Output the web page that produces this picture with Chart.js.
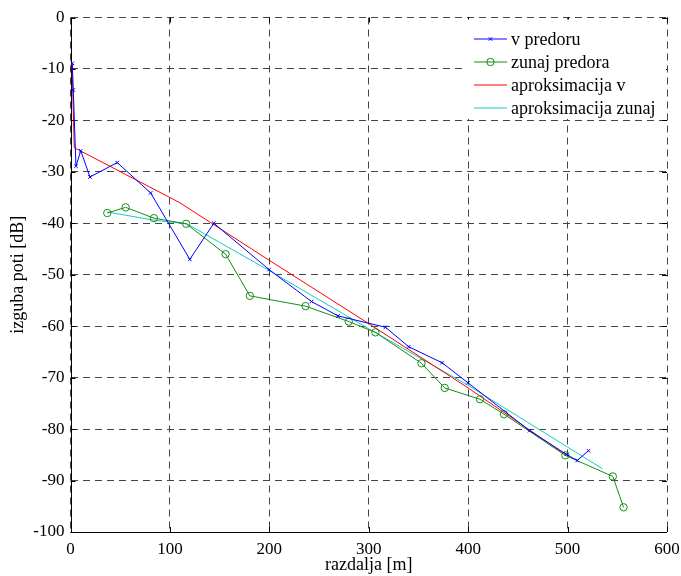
<!DOCTYPE html>
<html>
<head>
<meta charset="utf-8">
<script src="https://cdn.jsdelivr.net/npm/chart.js@4/dist/chart.umd.min.js"></script>
<style>
  html, body { margin: 0; padding: 0; background: #fff; }
  canvas { display: block; }
</style>
</head>
<body>
<canvas id="chart" width="681" height="576"></canvas>
<script>
// measured points (razdalja [m], izguba poti [dB])
const vPredoruX = [1.8, 2.8, 5.5, 10.3, 19.6, 47, 80.6, 120, 144.2, 199.8, 242.4, 269.1, 316.8, 340.2, 373.7, 399.8, 461.8, 498.7, 509.7, 521];
const vPredoruY = [-8.9, -14.1, -28.9, -25.9, -31.0, -28.2, -34.1, -47.0, -40.0, -49.0, -55.2, -58.0, -60.2, -64.0, -67.1, -71.0, -80.3, -84.9, -86.1, -84.2];

const zunajX = [37, 55.5, 83.9, 116.4, 156, 180.4, 236.4, 279.9, 306.7, 353, 376.4, 411.9, 436, 497.7, 545.5, 556.3];
const zunajY = [-38.0, -36.9, -39.0, -40.1, -46.0, -54.1, -56.1, -59.1, -61.2, -67.2, -72.0, -74.2, -77.1, -85.1, -89.2, -95.2];

// fitted curves
const aproksVX = [1.5, 3.8, 110, 200, 300, 400, 499];
const aproksVY = [-9.0, -25.3, -36.0, -47.2, -59.5, -72.0, -85.1];

const aproksZX = [37, 84, 117, 200, 300, 400, 500, 535];
const aproksZY = [-37.8, -39.4, -40.1, -49.2, -60.5, -71.5, -83.5, -87.7];

const seriesNames = ['v predoru', 'zunaj predora', 'aproksimacija v', 'aproksimacija zunaj'];
const xTicks = { min: 0, max: 600, step: 100 };
const yTicks = { min: -100, max: 0, step: 10 };

const pts = (xs, ys) => xs.map((x, i) => ({ x, y: ys[i] }));
const serif = '"Liberation Serif", "Times New Roman", serif';

// inward ticks, solid left/bottom axis lines
const axisPlugin = {
  id: 'axisPlugin',
  beforeDatasetsDraw(chart) {
    const { ctx, chartArea: a, scales } = chart;
    ctx.save();
    ctx.strokeStyle = '#000';
    ctx.lineWidth = 1;
    ctx.beginPath();
    scales.x.ticks.forEach(t => {
      const px = Math.round(scales.x.getPixelForValue(t.value)) + 0.5;
      ctx.moveTo(px, a.bottom); ctx.lineTo(px, a.bottom - 5);
      ctx.moveTo(px, a.top); ctx.lineTo(px, a.top + 5);
    });
    scales.y.ticks.forEach(t => {
      const py = Math.round(scales.y.getPixelForValue(t.value)) + 0.5;
      ctx.moveTo(a.left, py); ctx.lineTo(a.left + 5, py);
      ctx.moveTo(a.right, py); ctx.lineTo(a.right - 5, py);
    });
    ctx.stroke();
    ctx.beginPath();
    ctx.moveTo(Math.round(a.left) + 0.5, a.top);
    ctx.lineTo(Math.round(a.left) + 0.5, a.bottom);
    ctx.moveTo(a.left, Math.round(a.bottom) + 0.5);
    ctx.lineTo(a.right, Math.round(a.bottom) + 0.5);
    ctx.stroke();
    ctx.restore();
  }
};

// MATLAB style legend in the upper right corner
const legendPlugin = {
  id: 'legendPlugin',
  afterDatasetsDraw(chart) {
    const { ctx, chartArea: a } = chart;
    const r = a.right;
    ctx.save();
    ctx.fillStyle = '#fff';
    ctx.fillRect(r - 204, a.top + 2, 203, 99.5);
    ctx.font = '18px ' + serif;
    ctx.textBaseline = 'middle';
    ctx.textAlign = 'left';
    chart.data.datasets.forEach((ds, i) => {
      const y = a.top + 21.5 + i * 23;
      ctx.strokeStyle = ds.borderColor;
      ctx.lineWidth = 1;
      ctx.beginPath();
      ctx.moveTo(r - 193, y);
      ctx.lineTo(r - 160, y);
      ctx.stroke();
      if (ds.pointRadius > 0) {
        ctx.fillStyle = 'rgba(0,0,0,0)';
        Chart.helpers.drawPoint(ctx, {
          pointStyle: ds.pointStyle, radius: ds.pointRadius, borderWidth: 1, rotation: 0
        }, r - 176.5, y);
      }
      ctx.fillStyle = '#000';
      ctx.fillText(ds.label, r - 156, y + 1);
    });
    ctx.restore();
  }
};

const lineSet = (label, data, color, pointStyle, radius) => ({
  label, data,
  showLine: true,
  borderColor: color,
  backgroundColor: 'rgba(0,0,0,0)',
  borderWidth: 1,
  pointStyle: pointStyle || 'circle',
  pointRadius: radius || 0,
  pointBorderColor: color,
  pointBackgroundColor: 'rgba(0,0,0,0)',
  pointBorderWidth: 1,
  tension: 0
});

new Chart(document.getElementById('chart'), {
  type: 'scatter',
  data: {
    datasets: [
      lineSet(seriesNames[0], pts(vPredoruX, vPredoruY), '#0000ff', 'crossRot', 2.5),
      lineSet(seriesNames[1], pts(zunajX, zunajY), '#168c16', 'circle', 3.7),
      lineSet(seriesNames[2], pts(aproksVX, aproksVY), '#ff0000'),
      lineSet(seriesNames[3], pts(aproksZX, aproksZY), '#18c8c8')
    ]
  },
  options: {
    responsive: false,
    animation: false,
    layout: { padding: { top: 17.5, right: 14, left: 0, bottom: 0 } },
    plugins: { legend: { display: false }, tooltip: { enabled: false } },
    scales: {
      x: {
        type: 'linear', min: xTicks.min, max: xTicks.max,
        ticks: { stepSize: xTicks.step, color: '#000', font: { family: serif, size: 17 }, padding: 7, maxRotation: 0 },
        grid: { color: '#444', lineWidth: 1, drawTicks: false },
        border: { display: false, dash: [7, 5] },
        title: { display: true, text: 'razdalja [m]', color: '#000', font: { family: serif, size: 18 }, padding: { top: 0, bottom: 0 } },
        afterFit: s => { s.height = 44; s.paddingLeft = 0; s.paddingRight = 0; }
      },
      y: {
        type: 'linear', min: yTicks.min, max: yTicks.max,
        ticks: { stepSize: yTicks.step, color: '#000', font: { family: serif, size: 17 }, padding: 6 },
        grid: { color: '#444', lineWidth: 1, drawTicks: false },
        border: { display: false, dash: [7, 5] },
        title: { display: true, text: 'izguba poti [dB]', color: '#000', font: { family: serif, size: 18 }, padding: { top: 7, bottom: 0 } },
        afterFit: s => { s.width = 70.5; s.paddingTop = 0; s.paddingBottom = 0; }
      }
    }
  },
  plugins: [axisPlugin, legendPlugin]
});
</script>
</body>
</html>
